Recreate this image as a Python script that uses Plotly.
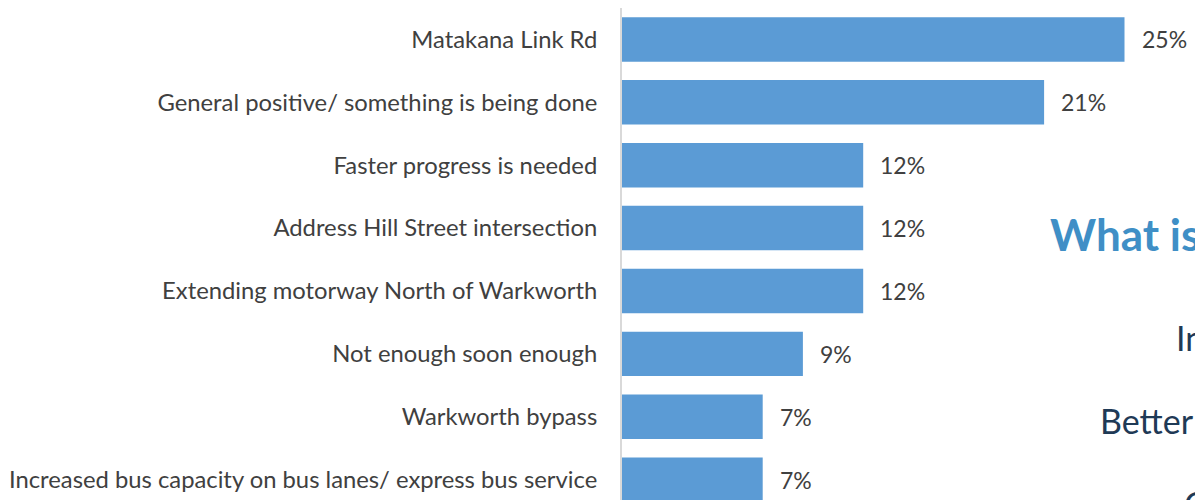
import plotly.graph_objects as go

# Survey responses, most frequent first
categories = [
    "Matakana Link Rd",
    "General positive/ something is being done",
    "Faster progress is needed",
    "Address Hill Street intersection",
    "Extending motorway North of Warkworth",
    "Not enough soon enough",
    "Warkworth bypass",
    "Increased bus capacity on bus lanes/ express bus service",
]
percentages = [25, 21, 12, 12, 12, 9, 7, 7]

# Slide text that sits beside the chart
side_texts = ["What is", "In", "Better", "C"]

W, H = 1195, 500
M_L, M_T = 622, 8
PLOT_W, PLOT_H = W - M_L, H - M_T

FONT = "Lato"
LABEL_COLOR = "#404040"
BAR_COLOR = "#5b9bd5"
SIDE_COLOR = "#1f3a56"

fig = go.Figure()
fig.add_trace(
    go.Bar(
        x=percentages,
        y=categories,
        orientation="h",
        width=0.707,
        marker=dict(color=BAR_COLOR, line=dict(width=0)),
        hoverinfo="skip",
    )
)

# Value labels to the right of each bar
for cat, val in zip(categories, percentages):
    fig.add_annotation(
        x=val, y=cat, xref="x", yref="y",
        text=f"{val}%", showarrow=False,
        xanchor="left", yanchor="middle", xshift=15,
        font=dict(family=FONT, size=23, color=LABEL_COLOR),
    )


def px_x(px):
    return (px - M_L) / PLOT_W


def px_y(py):
    return (H - py) / PLOT_H


fig.add_annotation(
    x=px_x(1048), y=px_y(234), xref="paper", yref="paper",
    text=f"<b>{side_texts[0]}</b>", showarrow=False,
    xanchor="left", yanchor="middle",
    font=dict(family=FONT, size=44, color="#3f8fc6"),
)
fig.add_annotation(
    x=px_x(1174), y=px_y(338), xref="paper", yref="paper",
    text=side_texts[1], showarrow=False,
    xanchor="left", yanchor="middle",
    font=dict(family=FONT, size=34, color=SIDE_COLOR),
)
fig.add_annotation(
    x=px_x(1098), y=px_y(420), xref="paper", yref="paper",
    text=side_texts[2], showarrow=False,
    xanchor="left", yanchor="middle",
    font=dict(family=FONT, size=34, color=SIDE_COLOR),
)
fig.add_annotation(
    x=px_x(1182), y=px_y(503), xref="paper", yref="paper",
    text=side_texts[3], showarrow=False,
    xanchor="left", yanchor="middle",
    font=dict(family=FONT, size=34, color=SIDE_COLOR),
)

fig.update_layout(
    width=W, height=H,
    margin=dict(l=M_L, r=0, t=M_T, b=0, pad=0),
    paper_bgcolor="white", plot_bgcolor="white",
    showlegend=False,
    xaxis=dict(
        range=[0, PLOT_W / 20.1],
        showgrid=False, zeroline=False, showticklabels=False,
        showline=False, ticks="",
    ),
    yaxis=dict(
        type="category",
        categoryorder="array", categoryarray=categories,
        range=[7.324, -0.5],
        showgrid=False, zeroline=False,
        showline=True, linecolor="#d9d9d9", linewidth=2,
        ticks="", ticklabelstandoff=18,
        tickfont=dict(family=FONT, size=23.8, color=LABEL_COLOR),
    ),
)

fig.write_html("out.html")
